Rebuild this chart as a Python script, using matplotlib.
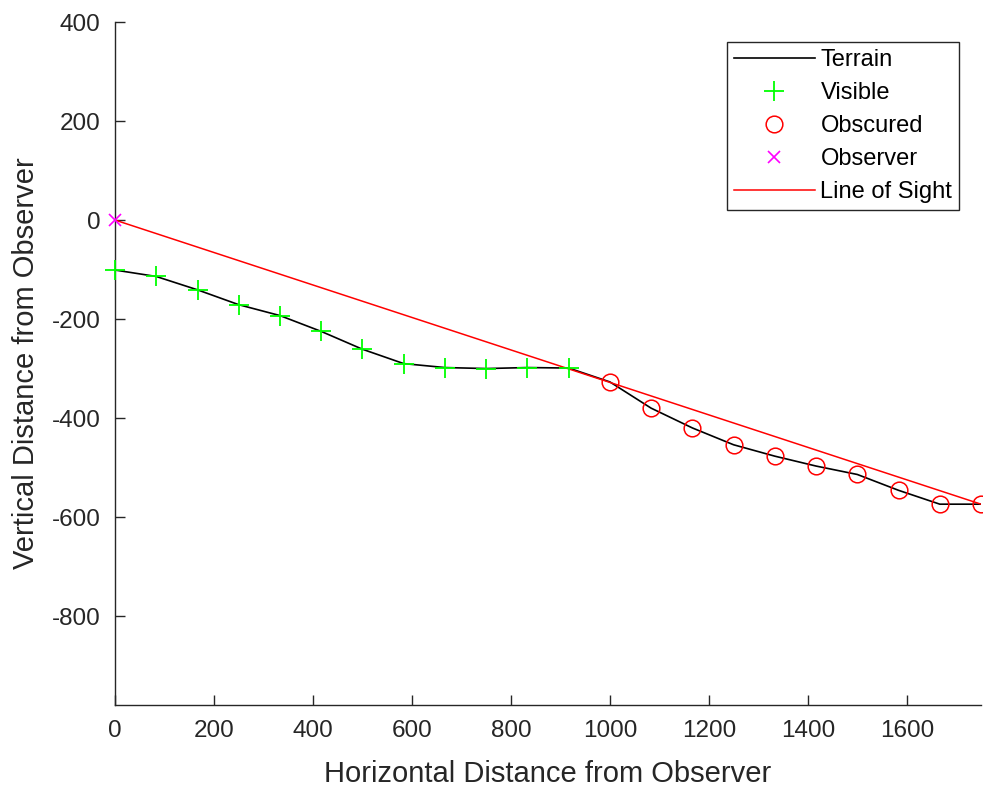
import matplotlib
matplotlib.use("Agg")
import matplotlib.pyplot as plt
import numpy as np

plt.rcParams['font.family'] = ['Liberation Sans', 'DejaVu Sans']
plt.rcParams['axes.unicode_minus'] = False

# Horizontal positions of terrain samples (spacing 1750/21)
x_terrain = [0, 83.3, 166.7, 250, 333.3, 416.7, 500, 583.3, 666.7, 750, 833.3, 916.7,
             1000, 1083.3, 1166.7, 1250, 1333.3, 1416.7, 1500, 1583.3, 1666.7, 1750]
y_terrain = [-101, -114, -141, -171, -193, -225, -261, -290, -298, -300, -298, -299,
             -327, -380, -420, -454, -477, -497, -514, -546, -574, -574]
visible = [True] * 12 + [False] * 10

observer_x = [0]
observer_y = [0]

x_vis = [x for x, v in zip(x_terrain, visible) if v]
y_vis = [y for y, v in zip(y_terrain, visible) if v]
x_obs = [x for x, v in zip(x_terrain, visible) if not v]
y_obs = [y for y, v in zip(y_terrain, visible) if not v]

los_x = [observer_x[0], x_terrain[-1]]
los_y = [observer_y[0], y_terrain[-1]]

fig = plt.figure(figsize=(9.83, 7.87), dpi=100)
ax = fig.add_axes([0.117, 0.104, 0.881, 0.868])

ax.plot(x_terrain, y_terrain, color='black', lw=1.2, label='Terrain', zorder=2)
ax.plot(x_vis, y_vis, ls='none', marker='+', color='#00ff00', ms=14, mew=1.3,
        label='Visible', zorder=4, clip_on=False)
ax.plot(x_obs, y_obs, ls='none', marker='o', mfc='none', mec='#ff0000', ms=12, mew=1.1,
        label='Obscured', zorder=4, clip_on=False)
ax.plot(observer_x, observer_y, ls='none', marker='x', color='#ff00ff', ms=8, mew=1.2,
        label='Observer', zorder=5, clip_on=False)
ax.plot(los_x, los_y, color='#ff0000', lw=1.1, label='Line of Sight', zorder=3)

ax.set_xlim(0, 1750)
ax.set_ylim(-980, 400)
ax.set_xticks([0, 200, 400, 600, 800, 1000, 1200, 1400, 1600])
ax.set_yticks([400, 200, 0, -200, -400, -600, -800])

dark = '#262626'
for s in ['top', 'right']:
    ax.spines[s].set_visible(False)
for s in ['left', 'bottom']:
    ax.spines[s].set_color(dark)
    ax.spines[s].set_linewidth(1.0)
ax.tick_params(direction='in', length=7, width=1.0, colors=dark, labelsize=17.5)
ax.tick_params(axis='y', pad=10.5)
ax.tick_params(axis='x', pad=11)

ax.set_xlabel('Horizontal Distance from Observer', fontsize=21, color=dark, labelpad=13)
ax.set_ylabel('Vertical Distance from Observer', fontsize=21, color=dark, labelpad=8)

leg = ax.legend(loc='upper right', bbox_to_anchor=(0.975, 0.971), borderaxespad=0,
                fontsize=17, frameon=True, fancybox=False, handlelength=3.4,
                handletextpad=0.25, borderpad=0.3, labelspacing=0.47,
                edgecolor=dark, framealpha=1)
leg.get_frame().set_linewidth(1.0)
for t in leg.get_texts():
    t.set_color('black')

fig.savefig('out.png', dpi=100)
